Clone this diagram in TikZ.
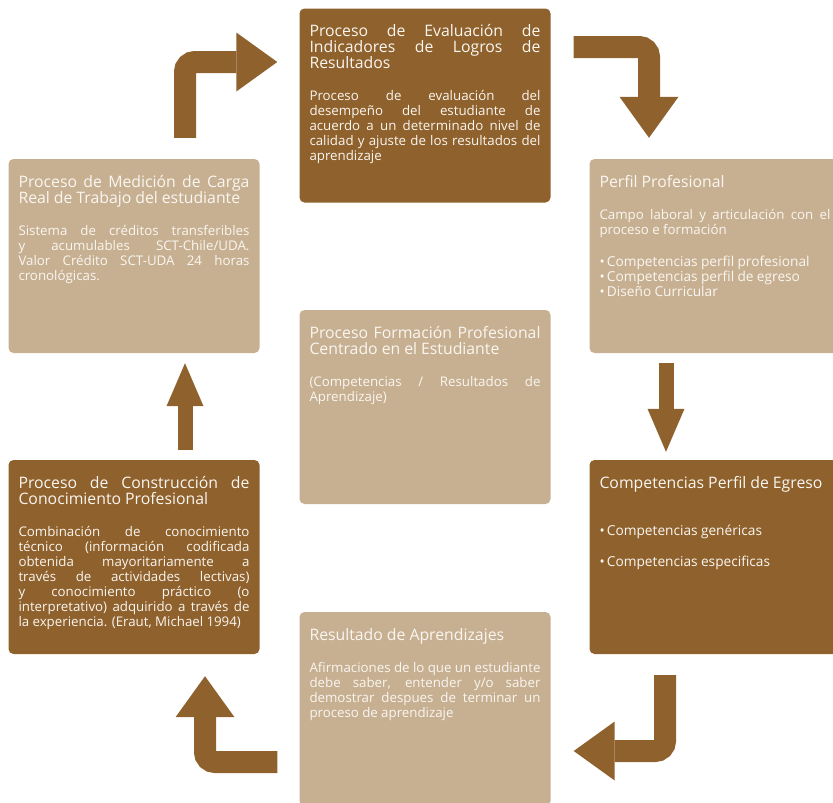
\documentclass[tikz,border=0pt]{standalone}
\usepackage{fontspec}
\setmainfont{Open Sans}
\usetikzlibrary{arrows.meta}
\definecolor{dkbrown}{RGB}{143,97,45}
\definecolor{sand}{RGB}{199,176,146}
\definecolor{paper}{RGB}{250,246,240}
\newcommand{\titlefont}{\fontsize{15.8}{16}\selectfont\spaceskip=4pt plus 12pt minus 1.5pt}
\newcommand{\bodyfont}{\fontsize{13.3}{15}\selectfont\spaceskip=3.3pt plus 12pt minus 1.4pt}
\newcommand{\bulletfont}{\fontsize{13.7}{15}\selectfont}
\newcommand{\boxtext}[2]{\parbox[c][176pt][t]{231pt}{\titlefont\rule{0pt}{19pt}#1\par\vspace{17pt}\bodyfont #2}}
\begin{document}
\begin{tikzpicture}[x=1pt,y=-1pt,
  card/.style={rectangle,rounded corners=5pt,inner xsep=10pt,inner ysep=9pt,text=paper},
  darkcard/.style={card,fill=dkbrown},
  lightcard/.style={card,fill=sand},
  bendarrow/.style={draw=dkbrown,line width=22pt,rounded corners=10pt,-{Triangle[length=41pt,width=59pt,line width=0pt]}},
  straightarrow/.style={draw=dkbrown,line width=15pt,-{Triangle[length=43pt,width=37pt,line width=0pt]}}]
\useasboundingbox(0,0)rectangle(833,803);
\node[darkcard](eval)at(425,105.5){\boxtext{Proceso de Evaluación de\linebreak Indicadores de Logros de\linebreak Resultados}{Proceso de evaluación del\linebreak desempeño del estudiante de\linebreak acuerdo a un determinado nivel de\linebreak calidad y ajuste de los resultados del\linebreak aprendizaje}};
\node[lightcard](medicion)at(134,256){\boxtext{Proceso de Medición de Carga\linebreak Real de Trabajo del estudiante}{Sistema de créditos transferibles\linebreak y acumulables SCT-Chile/UDA.\linebreak Valor Crédito SCT-UDA 24 horas\linebreak cronológicas.}};
\node[lightcard](perfil)at(715,256){\boxtext{Perfil Profesional}{Campo laboral y articulación con el\linebreak proceso e formación\par\vspace{17pt}\bulletfont •\,Competencias perfil profesional\\ •\,Competencias perfil de egreso\\ •\,Diseño Curricular}};
\node[lightcard](centro)at(425,407){\boxtext{Proceso Formación Profesional\linebreak Centrado en el Estudiante}{(Competencias / Resultados de\linebreak Aprendizaje)}};
\node[darkcard](construccion)at(134,557){\boxtext{Proceso de Construcción de\linebreak Conocimiento Profesional}{Combinación de conocimiento\linebreak técnico (información codificada\linebreak obtenida mayoritariamente a\linebreak través de actividades lectivas)\linebreak y conocimiento práctico (o\linebreak interpretativo) adquirido a través de\linebreak la experiencia. (Eraut, Michael 1994)}};
\node[darkcard](egreso)at(715,557){\boxtext{Competencias Perfil de Egreso}{\vspace{15pt}\bulletfont •\,Competencias genéricas\par\vspace{16pt}•\,Competencias especificas}};
\node[lightcard](resultado)at(425,709){\boxtext{Resultado de Aprendizajes}{Afirmaciones de lo que un estudiante\linebreak debe saber, entender y/o saber\linebreak demostrar despues de terminar un\linebreak proceso de aprendizaje}};
\draw[bendarrow,shorten <=21pt,shorten >=22pt]([xshift=51pt]medicion.north)|-([yshift=43.5pt]eval.west);
\draw[bendarrow,shorten <=23pt,shorten >=21pt]([yshift=58.5pt]eval.east)-|([xshift=-66pt]perfil.north);
\draw[straightarrow,shorten <=10pt,shorten >=8pt]([xshift=-49pt]perfil.south)--([xshift=-49pt]egreso.north);
\draw[bendarrow,shorten <=21pt,shorten >=23pt]([xshift=-50pt]egreso.south)|-([yshift=-42pt]resultado.east);
\draw[bendarrow,shorten <=22pt,shorten >=22pt]([yshift=-53pt]resultado.west)-|([xshift=71pt]construccion.south);
\draw[straightarrow,shorten <=10pt,shorten >=10pt]([xshift=51pt]construccion.north)--([xshift=51pt]medicion.south);
\end{tikzpicture}
\end{document}
